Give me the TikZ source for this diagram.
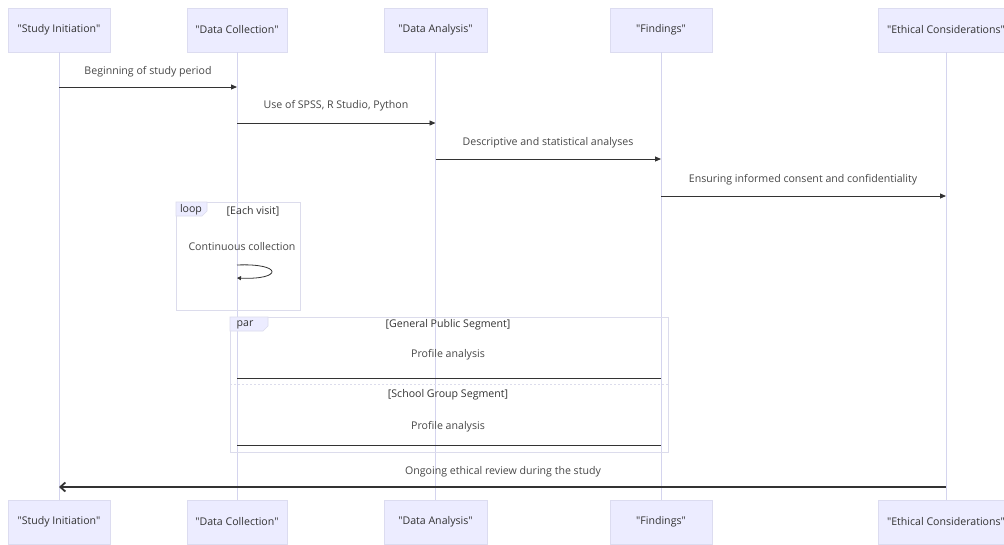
\documentclass[tikz,border=0pt]{standalone}
\usepackage{fontspec}
\setmainfont{Open Sans}
% a family without the TeX mapping, so " stays a straight quote
\newfontfamily\straightfont{Open Sans}
\usetikzlibrary{arrows.meta}
\definecolor{actfill}{HTML}{ECECFF}
\definecolor{actline}{HTML}{DCDCF0}
\definecolor{life}{HTML}{D4D4EE}
\definecolor{ink}{HTML}{333333}
\definecolor{frame}{HTML}{DCDCEC}
\newcommand{\dq}{{\straightfont"}}
\tikzset{
  actor/.style={draw=actline, fill=actfill, minimum width=102pt, minimum height=44pt,
    inner sep=0pt, font=\fontsize{10.6}{12}\selectfont, text=ink},
  lifeline/.style={draw=life, line width=0.8pt},
  msg/.style={draw=ink, line width=0.9pt, -{Triangle[length=6pt,width=5pt]}},
  plain/.style={draw=ink, line width=1pt},
  msgtext/.style={font=\fontsize{10.6}{12}\selectfont, text=ink!90, inner sep=0pt},
  framebox/.style={draw=frame, line width=0.8pt},
  tab/.style={draw=frame, fill=actfill, line width=0.6pt},
  tabtext/.style={font=\fontsize{10.6}{12}\selectfont, text=ink, inner sep=0pt},
}
\begin{document}
\begin{tikzpicture}[x=1pt, y=-1pt]
\useasboundingbox[fill=white] (0,0) rectangle (1004,544);

% participants, top row
\node[actor] (si) at (59,30) {\dq Study Initiation\dq};
\node[actor, minimum width=100pt] (dc) at (237,30) {\dq Data Collection\dq};
\node[actor, minimum width=103pt] (da) at (435.5,30) {\dq Data Analysis\dq};
\node[actor] (fi) at (661,30) {\dq Findings\dq};
\node[actor, minimum width=136pt] (ec) at (946,30) {\dq Ethical Considerations\dq};

% participants, bottom row
\node[actor] (si2) at (59,522) {\dq Study Initiation\dq};
\node[actor, minimum width=100pt] (dc2) at (237,522) {\dq Data Collection\dq};
\node[actor, minimum width=103pt] (da2) at (435.5,522) {\dq Data Analysis\dq};
\node[actor] (fi2) at (661,522) {\dq Findings\dq};
\node[actor, minimum width=136pt] (ec2) at (946,522) {\dq Ethical Considerations\dq};

% lifelines
\foreach \a/\b in {si/si2, dc/dc2, da/da2, fi/fi2, ec/ec2}
  \draw[lifeline] (\a.south) -- (\b.north);

% opening messages
\node[msgtext] (t1) at (148,72) {Beginning of study period};
\draw[msg] (si |- 0,87) -- (dc |- 0,87);
\node[msgtext] (t2) at (336,106) {Use of SPSS, R Studio, Python};
\draw[msg] (dc |- 0,123) -- (da |- 0,123);
\node[msgtext] (t3) at (548,143) {Descriptive and statistical analyses};
\draw[msg] (da |- 0,159) -- (fi |- 0,159);
\node[msgtext] (t4) at (803,180) {Ensuring informed consent and confidentiality};
\draw[msg] (fi |- 0,196) -- (ec |- 0,196);

% loop frame
\draw[framebox] (176,202) rectangle (300,310);
\draw[tab] (176,202) -- (207,202) -- (207,211) -- (202,216) -- (176,216) -- cycle;
\node[tabtext] (lp) at (191,210) {loop};
\node[tabtext] (lc) at (253,211) {[Each visit]};
\node[msgtext] (t5) at (242,247) {Continuous collection};
\draw[draw=ink, line width=0.8pt, -{Triangle[length=4pt,width=4pt]}]
  (dc |- 0,265) .. controls (283,263) and (283,280) .. (dc |- 0,278);

% par frame
\draw[framebox] (230,317) rectangle (668,452);
\draw[tab] (230,317) -- (268,317) -- (268,326) -- (263,331) -- (230,331) -- cycle;
\node[tabtext] (pp) at (245,325) {par};
\node[tabtext] (pc1) at (448,325) {[General Public Segment]};
\node[msgtext] (t6) at (448,355) {Profile analysis};
\draw[plain] (fi |- 0,378) -- (dc |- 0,378);
\draw[framebox, dash pattern=on 2pt off 2pt] (230,384) -- (668,384);
\node[tabtext] (pc2) at (448,395) {[School Group Segment]};
\node[msgtext] (t7) at (448,427) {Profile analysis};
\draw[plain] (fi |- 0,445) -- (dc |- 0,445);

% closing message
\node[msgtext] (t8) at (503,472) {Ongoing ethical review during the study};
\draw[draw=ink, line width=1.8pt, -{Straight Barb[length=5pt,width=9pt]}] (ec |- 0,487) -- (si |- 0,487);
\end{tikzpicture}
\end{document}
